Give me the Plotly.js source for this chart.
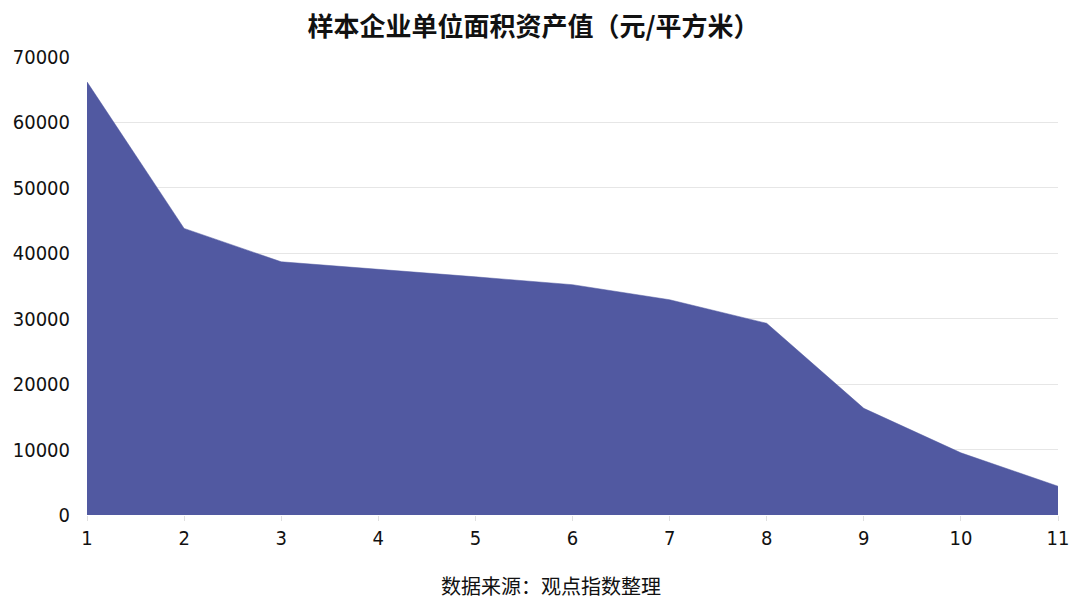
<!DOCTYPE html>
<html>
<head>
<meta charset="utf-8">
<script src="https://cdn.plot.ly/plotly-3.0.1.min.js"></script>
<style>html,body{margin:0;padding:0;background:#fff;}#chart{width:1080px;height:608px;}</style>
</head>
<body>
<div id="chart"></div>
<script>
const categories = [1, 2, 3, 4, 5, 6, 7, 8, 9, 10, 11];
const values = [66200, 43800, 38700, 37600, 36400, 35200, 32900, 29300, 16300, 9500, 4400];
const yTicks = [0, 10000, 20000, 30000, 40000, 50000, 60000, 70000];
const titleText = '样本企业单位面积资产值（元/平方米）';
const sourceText = '数据来源：观点指数整理';

const numFont = '"DejaVu Sans Condensed", "Noto Sans CJK SC", sans-serif';
const cjkFont = '"Noto Sans CJK SC", sans-serif';

Plotly.newPlot('chart', [{
  x: categories,
  y: values,
  type: 'scatter',
  mode: 'lines',
  fill: 'tozeroy',
  fillcolor: '#5159a1',
  line: {color: '#5159a1', width: 0.5},
  hoverinfo: 'x+y'
}], {
  width: 1080, height: 608,
  margin: {l: 87, r: 22, t: 57, b: 93},
  paper_bgcolor: '#fff', plot_bgcolor: '#fff',
  showlegend: false,
  title: {text: '<b>' + titleText + '</b>', x: 0.494, xanchor: 'center', y: 0.955, yanchor: 'middle',
          font: {family: cjkFont, size: 26, color: '#111'}},
  xaxis: {
    range: [1, 11], tickvals: categories, ticktext: categories.map(String),
    showgrid: false, zeroline: false, showline: false,
    ticks: 'outside', ticklen: 5, tickcolor: '#e0e0e0',
    tickfont: {family: numFont, size: 20, color: '#111'}
  },
  yaxis: {
    range: [0, 70000], tickvals: yTicks, ticktext: yTicks.map(String),
    showgrid: true, gridcolor: '#e6e6e6', gridwidth: 1, zeroline: false, showline: false,
    ticks: '', ticklabelstandoff: 16,
    tickfont: {family: numFont, size: 20, color: '#111'}
  },
  annotations: [{
    text: sourceText, xref: 'paper', yref: 'paper', x: 0.478, y: -0.155, xanchor: 'center', yanchor: 'middle',
    showarrow: false, font: {family: cjkFont, size: 20, color: '#111'}
  }]
}, {displayModeBar: false, staticPlot: true});
</script>
</body>
</html>
